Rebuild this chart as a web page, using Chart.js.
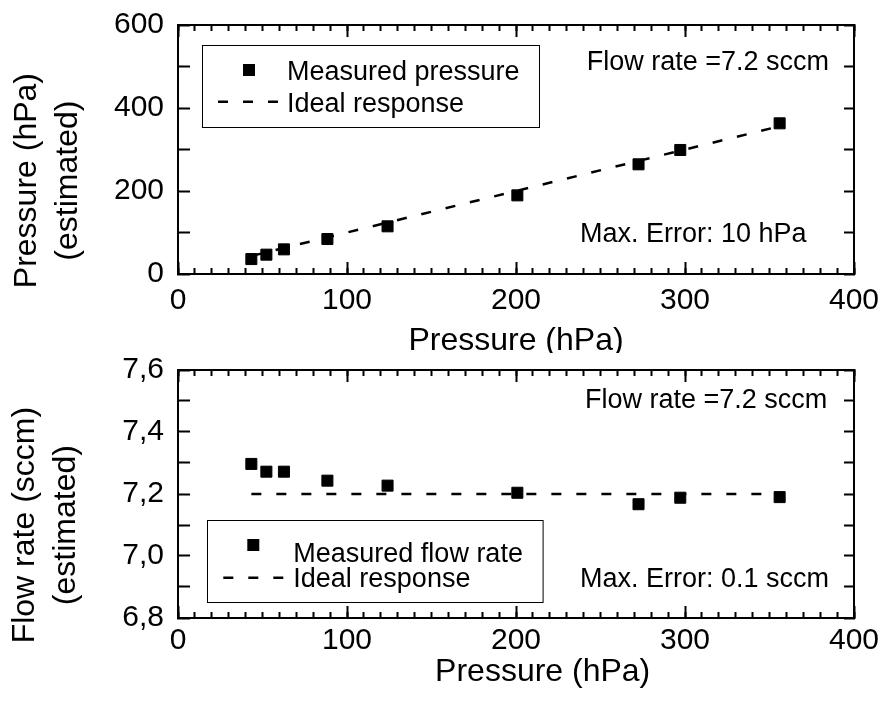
<!DOCTYPE html>
<html>
<head>
<meta charset="utf-8">
<script src="https://cdn.jsdelivr.net/npm/chart.js@4.4.0/dist/chart.umd.min.js"></script>
<style>
  html, body { margin: 0; padding: 0; background: #fff; }
  #wrap { position: relative; width: 886px; height: 706px; }
  canvas { position: absolute; left: 0; }
  #pressureChart { top: 0; }
  #flowChart { top: 353px; }
</style>
</head>
<body>
<div id="wrap">
  <canvas id="pressureChart" width="886" height="353"></canvas>
  <canvas id="flowChart" width="886" height="353"></canvas>
</div>
<script>
// ===========================
// DATA
// ===========================
const pressureSet      = [43.4, 52.3, 62.7, 88.4, 124.0, 200.8, 272.5, 297.2, 356.0];
const pressureMeasured = [36.0, 46.6, 59.4, 84.3, 114.9, 189.5, 264.3, 298.8, 363.1];
const flowMeasured     = [7.297, 7.272, 7.272, 7.243, 7.227, 7.204, 7.167, 7.188, 7.190];

const idealX        = [43.4, 356.0];
const idealPressure = [43.4, 356.0];
const idealFlow     = [7.2, 7.2];

const xRange    = [0, 400];
const xMajor    = 100;
const xMinor    = 10;
const pRange    = [0, 600];
const pStep     = 100;
const pLabelStep = 200;
const fRange    = [6.8, 7.6];
const fStep     = 0.1;

// ===========================
// HELPERS
// ===========================
const FONT = "'Liberation Sans', Arial, Helvetica, sans-serif";
const BLACK = '#000';

function zip(xs, ys) {
  return xs.map((x, i) => ({ x: x, y: ys[i] }));
}

function noPad(s) {
  s.paddingLeft = 0; s.paddingRight = 0; s.paddingTop = 0; s.paddingBottom = 0;
}

const edge = { display: true, color: BLACK, width: 2 };
const noEdge = { display: false };

function tickGrid(len) {
  return { display: true, drawOnChartArea: false, tickLength: -len, tickColor: BLACK, tickWidth: 2 };
}

function buildScales(o) {
  const tickFont = { family: FONT, size: 30, lineHeight: 1 };
  return {
    x: {
      type: 'linear', position: 'bottom', weight: 1,
      min: xRange[0], max: xRange[1],
      ticks: { stepSize: xMajor, font: tickFont, color: BLACK, padding: o.xTickPad, maxRotation: 0, autoSkip: false },
      grid: tickGrid(12), border: edge,
      title: { display: true, text: o.xTitle, color: BLACK,
               font: { family: FONT, size: 32, lineHeight: 1 }, padding: { top: 0, bottom: o.xTitlePad } },
      afterFit(s) { s.height = o.axisH; noPad(s); }
    },
    xMinor: {
      type: 'linear', position: 'bottom', weight: 0,
      min: xRange[0], max: xRange[1],
      ticks: { stepSize: xMinor, display: false, autoSkip: false, maxTicksLimit: 100 },
      grid: tickGrid(6), border: noEdge,
      afterFit(s) { s.height = 0; noPad(s); }
    },
    xTop: {
      type: 'linear', position: 'top', weight: 1,
      min: xRange[0], max: xRange[1],
      ticks: { stepSize: xMajor, display: false, autoSkip: false },
      grid: tickGrid(12), border: edge,
      afterFit(s) { s.height = 0; noPad(s); }
    },
    xTopMinor: {
      type: 'linear', position: 'top', weight: 0,
      min: xRange[0], max: xRange[1],
      ticks: { stepSize: xMinor, display: false, autoSkip: false, maxTicksLimit: 100 },
      grid: tickGrid(6), border: noEdge,
      afterFit(s) { s.height = 0; noPad(s); }
    },
    y: {
      type: 'linear', position: 'left',
      min: o.yRange[0], max: o.yRange[1],
      ticks: { stepSize: o.yStep, font: tickFont, color: BLACK, padding: 26, autoSkip: false,
               maxTicksLimit: 100, callback: o.yLabel },
      grid: tickGrid(12), border: edge,
      title: { display: true, text: o.yTitle, color: BLACK,
               font: { family: FONT, size: 32, lineHeight: 1.28 }, padding: { top: o.yTitlePad, bottom: 0 } },
      afterFit(s) { s.width = 178; noPad(s); }
    },
    yRight: {
      type: 'linear', position: 'right',
      min: o.yRange[0], max: o.yRange[1],
      ticks: { stepSize: o.yStep, display: false, autoSkip: false, maxTicksLimit: 100 },
      grid: tickGrid(10), border: edge,
      afterFit(s) { s.width = 0; noPad(s); }
    }
  };
}

// legend box + text notes, placed relative to the plot area
const notesPlugin = {
  id: 'notes',
  afterDraw(chart, args, opts) {
    const { ctx, chartArea: a } = chart;
    const L = a.left, T = a.top;
    const b = opts.box;
    ctx.save();
    ctx.strokeStyle = BLACK;
    ctx.lineWidth = 1;
    ctx.strokeRect(Math.round(L + b.x) + 0.5, Math.round(T + b.y) + 0.5, b.w, b.h);

    // marker sample
    ctx.fillStyle = BLACK;
    ctx.fillRect(L + opts.marker.x - 6, T + opts.marker.y - 6, 12, 12);

    // dashed line sample
    ctx.beginPath();
    ctx.setLineDash([10, 15]);
    ctx.lineWidth = 2.5;
    ctx.moveTo(L + opts.sample.x1, T + opts.sample.y);
    ctx.lineTo(L + opts.sample.x2, T + opts.sample.y);
    ctx.stroke();
    ctx.setLineDash([]);

    ctx.font = '27px ' + FONT;
    ctx.textAlign = 'left';
    ctx.textBaseline = 'alphabetic';
    opts.texts.forEach(t => ctx.fillText(t.text, L + t.x, T + t.y));
    ctx.restore();
  }
};

function makeChart(id, datasets, scales, notes, padTop) {
  return new Chart(document.getElementById(id), {
    type: 'scatter',
    data: { datasets: datasets },
    options: {
      responsive: false,
      animation: false,
      devicePixelRatio: 1,
      events: [],
      layout: { padding: { top: padTop, right: 32, left: 0, bottom: 0 } },
      plugins: { legend: { display: false }, tooltip: { enabled: false }, notes: notes },
      scales: scales
    },
    plugins: [notesPlugin]
  });
}

function measuredSet(label, data) {
  return {
    label: label, data: data,
    pointStyle: 'rect', pointRadius: 7.8,
    backgroundColor: BLACK, borderColor: BLACK, borderWidth: 1,
    showLine: false
  };
}

function idealSet(data) {
  return {
    label: 'Ideal response', data: data,
    showLine: true, pointRadius: 0,
    borderColor: BLACK, borderWidth: 2.5, borderDash: [10, 15], fill: false
  };
}

// ===========================
// PRESSURE CHART
// ===========================
makeChart('pressureChart',
  [
    measuredSet('Measured pressure', zip(pressureSet, pressureMeasured)),
    idealSet(zip(idealX, idealPressure))
  ],
  buildScales({
    xTitle: 'Pressure (hPa)', xTitlePad: -4, xTickPad: 24, axisH: 79,
    yRange: pRange, yStep: pStep,
    yLabel: v => (Math.round(v) % pLabelStep === 0 ? String(v) : ''),
    yTitle: ['Pressure (hPa)       ', '(estimated)       '], yTitlePad: 7
  }),
  {
    box: { x: 24, y: 20, w: 337, h: 82 },
    marker: { x: 71, y: 45 },
    sample: { x1: 40, x2: 100, y: 76.7 },
    texts: [
      { text: 'Measured pressure', x: 109, y: 55 },
      { text: 'Ideal response', x: 109, y: 86.7 },
      { text: 'Flow rate =7.2 sccm', x: 408.7, y: 45 },
      { text: 'Max. Error: 10 hPa', x: 402, y: 217.3 }
    ]
  },
  25
);

// ===========================
// FLOW RATE CHART
// ===========================
makeChart('flowChart',
  [
    measuredSet('Measured flow rate', zip(pressureSet, flowMeasured)),
    idealSet(zip(idealX, idealFlow))
  ],
  buildScales({
    xTitle: '      Pressure (hPa)', xTitlePad: 18, xTickPad: 20, axisH: 88,
    yRange: fRange, yStep: fStep,
    yLabel: v => (Math.round(v * 10) % 2 === 0 ? v.toFixed(1).replace('.', ',') : ''),
    yTitle: ['Flow rate (sccm)       ', '(estimated)       '], yTitlePad: 4.5
  }),
  {
    box: { x: 28.7, y: 150, w: 335.6, h: 82 },
    marker: { x: 75.3, y: 175 },
    sample: { x1: 45.3, x2: 105.3, y: 207.7 },
    texts: [
      { text: 'Measured flow rate', x: 115.3, y: 191.5 },
      { text: 'Ideal response', x: 115.3, y: 216.7 },
      { text: 'Flow rate =7.2 sccm', x: 407, y: 38.3 },
      { text: 'Max. Error: 0.1 sccm', x: 402, y: 216.7 }
    ]
  },
  17
);
</script>
</body>
</html>
